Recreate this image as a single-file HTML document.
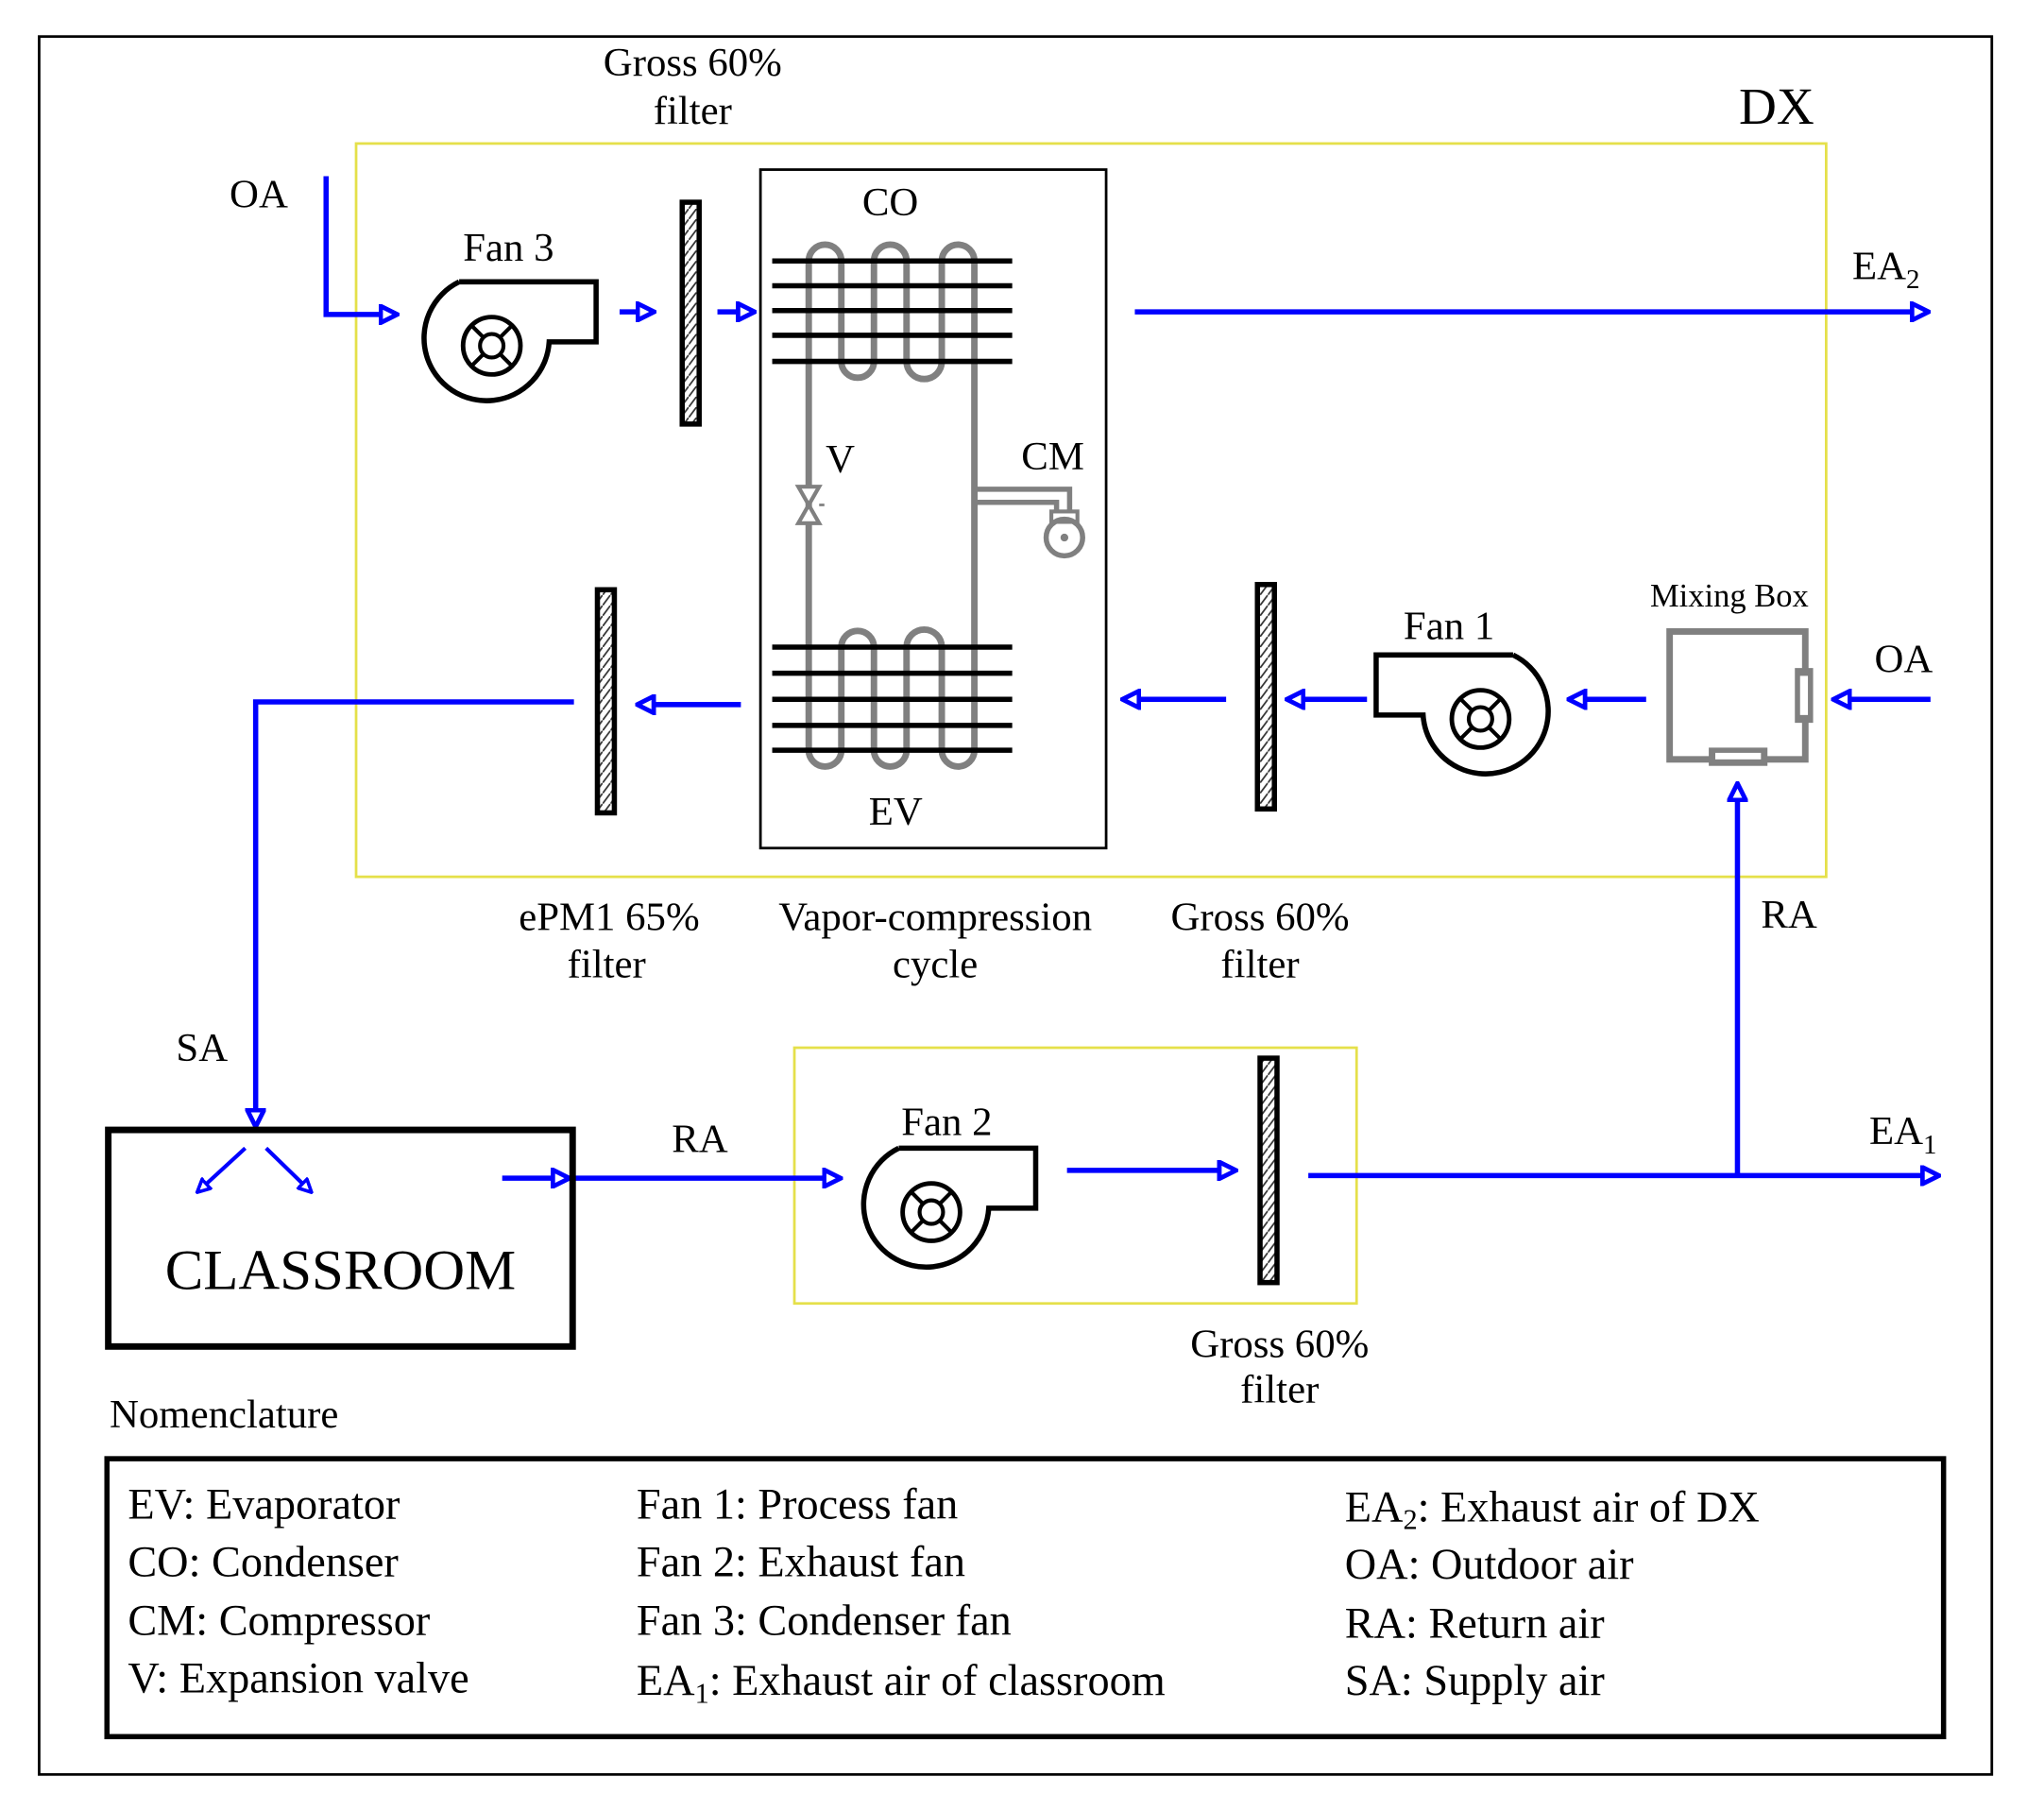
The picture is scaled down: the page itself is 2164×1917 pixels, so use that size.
<!DOCTYPE html>
<html><head><meta charset="utf-8"><style>
html,body{margin:0;padding:0;background:#fff;}
svg{display:block;}
text{font-family:"Liberation Serif",serif;fill:#000;}
</style></head><body>
<svg width="2164" height="1917" viewBox="0 0 1567 1388" preserveAspectRatio="none" xmlns="http://www.w3.org/2000/svg">
<defs>
<marker id="ah" viewBox="0 0 10 10" refX="8" refY="5" markerWidth="4" markerHeight="4" orient="auto" markerUnits="strokeWidth">
<path d="M1,1 L9,5 L1,9 Z" fill="#fff" stroke="#0000ff" stroke-width="2.2"/>
</marker>
<pattern id="hatch" width="6" height="8" patternUnits="userSpaceOnUse">
<rect width="6" height="8" fill="#fff"/>
<line x1="0" y1="8" x2="6" y2="0" stroke="#333" stroke-width="1.3"/>
</pattern>
<g id="fanR">
<path d="M352 216 L457 216 L457 262 L421 262 A48 48 0 1 1 352 216" fill="none" stroke="#000" stroke-width="4"/>
<circle cx="377" cy="265" r="22" fill="none" stroke="#000" stroke-width="3.5"/>
<circle cx="377" cy="265" r="9" fill="none" stroke="#000" stroke-width="3"/>
<line x1="362" y1="250" x2="370" y2="258" stroke="#000" stroke-width="3"/>
<line x1="392" y1="250" x2="384" y2="258" stroke="#000" stroke-width="3"/>
<line x1="362" y1="280" x2="370" y2="272" stroke="#000" stroke-width="3"/>
<line x1="392" y1="280" x2="384" y2="272" stroke="#000" stroke-width="3"/>
</g>
</defs>
<rect x="0" y="0" width="1567" height="1388" fill="#fff"/>
<rect x="30" y="28" width="1497" height="1332" fill="none" stroke="#000" stroke-width="2"/>
<rect x="273" y="110" width="1127" height="562" fill="none" stroke="#e5e04a" stroke-width="2"/>
<rect x="609" y="803" width="431" height="196" fill="none" stroke="#e5e04a" stroke-width="2"/>
<rect x="583" y="130" width="265" height="520" fill="none" stroke="#000" stroke-width="2"/>

<g fill="none" stroke="#808080" stroke-width="5">
<line x1="620" y1="200" x2="620" y2="575"/>
<line x1="747" y1="200" x2="747" y2="575"/>
<line x1="645" y1="200" x2="645" y2="277"/><line x1="670" y1="200" x2="670" y2="277"/>
<line x1="695" y1="200" x2="695" y2="277"/><line x1="722" y1="200" x2="722" y2="277"/>
<line x1="645" y1="496" x2="645" y2="575"/><line x1="670" y1="496" x2="670" y2="575"/>
<line x1="695" y1="496" x2="695" y2="575"/><line x1="722" y1="496" x2="722" y2="575"/>
<path d="M620 200 A12.5 12.5 0 0 1 645 200"/><path d="M670 200 A12.5 12.5 0 0 1 695 200"/><path d="M722 200 A12.5 12.5 0 0 1 747 200"/>
<path d="M645 277 A12.5 12.5 0 0 0 670 277"/><path d="M695 277 A13.5 13.5 0 0 0 722 277"/>
<path d="M645 496 A12.5 12.5 0 0 1 670 496"/><path d="M695 496 A13.5 13.5 0 0 1 722 496"/>
<path d="M620 575 A12.5 12.5 0 0 0 645 575"/><path d="M670 575 A12.5 12.5 0 0 0 695 575"/><path d="M722 575 A12.5 12.5 0 0 0 747 575"/>
<path d="M747 375 L820 375 L820 392" stroke-width="4"/>
<path d="M747 385 L810 385 L810 392" stroke-width="4"/>
<rect x="806" y="392" width="20" height="8" stroke-width="3"/>
<circle cx="816" cy="412" r="14" stroke-width="4"/>
<path d="M612 373 L628 373 L612 401 L628 401 Z" stroke-width="3" fill="#fff"/>
<line x1="628" y1="387" x2="632" y2="387" stroke-width="2"/>
</g>
<circle cx="816" cy="412" r="3" fill="#808080"/>
<g stroke="#000" stroke-width="4">
<line x1="592" y1="200" x2="776" y2="200"/><line x1="592" y1="219" x2="776" y2="219"/>
<line x1="592" y1="238" x2="776" y2="238"/><line x1="592" y1="257" x2="776" y2="257"/>
<line x1="592" y1="277" x2="776" y2="277"/>
<line x1="592" y1="496" x2="776" y2="496"/><line x1="592" y1="516" x2="776" y2="516"/>
<line x1="592" y1="536" x2="776" y2="536"/><line x1="592" y1="556" x2="776" y2="556"/>
<line x1="592" y1="575" x2="776" y2="575"/>
</g>

<g fill="url(#hatch)" stroke="#000" stroke-width="4">
<rect x="523" y="155" width="13" height="170"/>
<rect x="458" y="452" width="13" height="171"/>
<rect x="964" y="448" width="13" height="172"/>
<rect x="966" y="811" width="13" height="172"/>
</g>

<use href="#fanR"/>
<use href="#fanR" transform="translate(1512,286) scale(-1,1)"/>
<use href="#fanR" transform="translate(337,664)"/>

<rect x="1280" y="484" width="104" height="98" fill="none" stroke="#808080" stroke-width="5"/>
<rect x="1376" y="512" width="14" height="42" fill="#808080"/>
<rect x="1380" y="518" width="6" height="30" fill="#fff"/>
<rect x="1310" y="573" width="45" height="14" fill="#808080"/>
<rect x="1315" y="577" width="35" height="5" fill="#fff"/>

<g fill="none" stroke="#0000ff" stroke-width="4">
<path d="M250 135 L250 241 L303 241" marker-end="url(#ah)"/>
<line x1="475" y1="239" x2="500" y2="239" marker-end="url(#ah)"/>
<line x1="550" y1="239" x2="577" y2="239" marker-end="url(#ah)"/>
<line x1="870" y1="239" x2="1477" y2="239" marker-end="url(#ah)"/>
<line x1="1480" y1="536" x2="1407" y2="536" marker-end="url(#ah)"/>
<line x1="1262" y1="536" x2="1204" y2="536" marker-end="url(#ah)"/>
<line x1="1048" y1="536" x2="988" y2="536" marker-end="url(#ah)"/>
<line x1="940" y1="536" x2="862" y2="536" marker-end="url(#ah)"/>
<line x1="568" y1="540" x2="490" y2="540" marker-end="url(#ah)"/>
<path d="M440 538 L196 538 L196 862" marker-end="url(#ah)"/>
<line x1="385" y1="903" x2="435" y2="903" marker-end="url(#ah)"/>
<line x1="440" y1="903" x2="643" y2="903" marker-end="url(#ah)"/>
<line x1="818" y1="897" x2="946" y2="897" marker-end="url(#ah)"/>
<line x1="1003" y1="901" x2="1485" y2="901" marker-end="url(#ah)"/>
<line x1="1332" y1="901" x2="1332" y2="602" marker-end="url(#ah)"/>
<line x1="188" y1="880" x2="152" y2="913" stroke-width="3" marker-end="url(#ah)"/>
<line x1="204" y1="880" x2="238" y2="913" stroke-width="3" marker-end="url(#ah)"/>
</g>

<rect x="83" y="866" width="356" height="166" fill="none" stroke="#000" stroke-width="5"/>
<text x="261" y="988" font-size="44" text-anchor="middle">CLASSROOM</text>

<g font-size="31">
<text x="531" y="58" text-anchor="middle">Gross 60%</text>
<text x="531" y="95" text-anchor="middle">filter</text>
<text x="1362" y="95" font-size="40" text-anchor="middle">DX</text>
<text x="176" y="159">OA</text>
<text x="355" y="200">Fan 3</text>
<text x="661" y="165">CO</text>
<text x="633" y="362">V</text>
<text x="783" y="360">CM</text>
<text x="666" y="632">EV</text>
<text x="1420" y="214">EA<tspan font-size="21" dy="7">2</tspan></text>
<text x="1265" y="465" font-size="25">Mixing Box</text>
<text x="1076" y="490">Fan 1</text>
<text x="1437" y="515">OA</text>
<text x="1350" y="711">RA</text>
<text x="467" y="713" text-anchor="middle">ePM1 65%</text>
<text x="465" y="749" text-anchor="middle">filter</text>
<text x="717" y="713" text-anchor="middle">Vapor-compression</text>
<text x="717" y="749" text-anchor="middle">cycle</text>
<text x="966" y="713" text-anchor="middle">Gross 60%</text>
<text x="966" y="749" text-anchor="middle">filter</text>
<text x="135" y="813">SA</text>
<text x="515" y="883">RA</text>
<text x="691" y="870">Fan 2</text>
<text x="1433" y="877">EA<tspan font-size="21" dy="7">1</tspan></text>
<text x="981" y="1040" text-anchor="middle">Gross 60%</text>
<text x="981" y="1075" text-anchor="middle">filter</text>
<text x="84" y="1094">Nomenclature</text>
</g>

<rect x="82" y="1118" width="1408" height="213" fill="none" stroke="#000" stroke-width="4"/>
<g font-size="33.5">
<text x="98" y="1164">EV: Evaporator</text>
<text x="98" y="1208">CO: Condenser</text>
<text x="98" y="1253">CM: Compressor</text>
<text x="98" y="1297">V: Expansion valve</text>
<text x="488" y="1164">Fan 1: Process fan</text>
<text x="488" y="1208">Fan 2: Exhaust fan</text>
<text x="488" y="1253">Fan 3: Condenser fan</text>
<text x="488" y="1299">EA<tspan font-size="22" dy="6">1</tspan><tspan dy="-6">: Exhaust air of classroom</tspan></text>
<text x="1031" y="1166">EA<tspan font-size="22" dy="6">2</tspan><tspan dy="-6">: Exhaust air of DX</tspan></text>
<text x="1031" y="1210">OA: Outdoor air</text>
<text x="1031" y="1255">RA: Return air</text>
<text x="1031" y="1299">SA: Supply air</text>
</g>
</svg>
</body></html>
